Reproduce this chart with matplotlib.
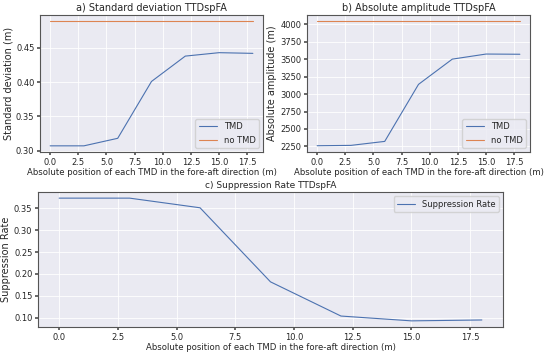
import numpy as np
import matplotlib
matplotlib.use("Agg")
import matplotlib.pyplot as plt
import seaborn as sns

# TMD positions (m)
positions = [0, 3, 6, 9, 12, 15, 18]

# a) standard deviation (m)
std_tmd = [0.307, 0.307, 0.318, 0.401, 0.438, 0.443, 0.442]
std_no_tmd = [0.489] * 7

# b) absolute amplitude (m)
amp_tmd = [2260, 2265, 2322, 3140, 3502, 3575, 3572]
amp_no_tmd = [4045] * 7

# c) suppression rate
supp_rate = [0.373, 0.373, 0.351, 0.182, 0.104, 0.093, 0.095]

sns.set_theme(style="darkgrid")
plt.rcParams['font.family'] = ['DejaVu Sans']

fig = plt.figure(figsize=(5.5, 3.53), dpi=100)
ax1 = fig.add_axes([40/550, 1-152/353, 223/550, 137/353])
ax2 = fig.add_axes([307/550, 1-152/353, 223/550, 137/353])
ax3 = fig.add_axes([38/550, 1-327/353, 465/550, 135/353])

blue = sns.color_palette("deep")[0]
orange = sns.color_palette("deep")[1]
xlab = "Absolute position of each TMD in the fore-aft direction (m)"

for ax in (ax1, ax2, ax3):
    for s in ax.spines.values():
        s.set_visible(True)
        s.set_color("#555555")
        s.set_linewidth(0.8)
    ax.tick_params(labelsize=6, pad=1.5, length=2.5, color="#555555", bottom=True, left=True)
    ax.grid(True, color="white", linewidth=0.6)

ax1.plot(positions, std_tmd, color=blue, lw=0.8, label="TMD")
ax1.plot(positions, std_no_tmd, color=orange, lw=0.8, label="no TMD")
ax1.set_title("a) Standard deviation TTDspFA", fontsize=7, pad=3)
ax1.set_ylabel("Standard deviation (m)", fontsize=7, labelpad=2)
ax1.set_xlabel(xlab, fontsize=6.1, labelpad=1)
ax1.set_xticks(np.arange(0, 18.1, 2.5))
ax1.set_yticks([0.30, 0.35, 0.40, 0.45])
ax1.set_ylim(0.298, 0.498)
ax1.legend(loc="lower right", fontsize=6, handlelength=2.2)

ax2.plot(positions, amp_tmd, color=blue, lw=0.8, label="TMD")
ax2.plot(positions, amp_no_tmd, color=orange, lw=0.8, label="no TMD")
ax2.set_title("b) Absolute amplitude TTDspFA", fontsize=7, pad=3)
ax2.set_ylabel("Absolute amplitude (m)", fontsize=7, labelpad=2)
ax2.set_xlabel(xlab, fontsize=6.1, labelpad=1)
ax2.set_xticks(np.arange(0, 18.1, 2.5))
ax2.set_yticks(np.arange(2250, 4001, 250))
ax2.set_ylim(2170, 4135)
ax2.legend(loc="lower right", fontsize=6, handlelength=2.2)

ax3.plot(positions, supp_rate, color=blue, lw=0.8, label="Suppression Rate")
ax3.set_title("c) Suppression Rate TTDspFA", fontsize=6.5, pad=3)
ax3.set_ylabel("Suppression Rate", fontsize=7, labelpad=2)
ax3.set_xlabel(xlab, fontsize=6.1, labelpad=1)
ax3.set_xticks(np.arange(0, 18.1, 2.5))
ax3.set_yticks(np.arange(0.10, 0.36, 0.05))
ax3.legend(loc="upper right", fontsize=6, handlelength=2.2)

fig.savefig("out.png", dpi=100)
